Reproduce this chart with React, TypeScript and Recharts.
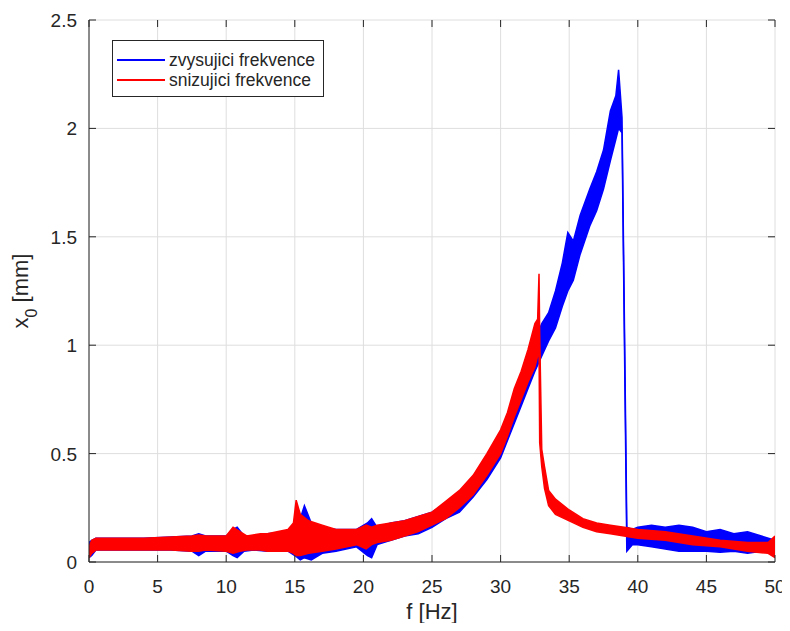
import { ComposedChart, Area, XAxis, YAxis, CartesianGrid, Legend } from 'recharts';

const FONT = '"Liberation Sans", Arial, Helvetica, sans-serif';
const AXIS = '#262626';
const GRID = '#dedede';
const BLUE = '#0000ff';
const RED = '#ff0000';

const SERIES_UP = 'zvysujici frekvence';
const SERIES_DOWN = 'snizujici frekvence';

const X_TICKS = [0, 5, 10, 15, 20, 25, 30, 35, 40, 45, 50];
const Y_TICKS = [0, 0.5, 1, 1.5, 2, 2.5];

// zvysujici frekvence: envelope of the noisy amplitude (min / max) per frequency
const upF = [0, 0.2, 0.5, 2, 4, 6, 7.5, 8, 8.5, 10, 10.5, 10.8, 11.3, 12, 13, 14.5, 15, 15.4, 15.7, 16.2, 17, 18, 19.5, 20.3, 20.6, 21, 22, 23, 24, 25, 26, 27, 28, 29, 30, 30.5, 31, 31.5, 32, 32.5, 33, 33.5, 34, 34.5, 34.9, 35.3, 35.8, 36.5, 37, 37.5, 38, 38.4, 38.6, 38.85, 39.2, 39.6, 40, 41, 42, 43, 44, 45, 46, 47, 48, 49, 50];
const upLo = [0.02, 0.03, 0.055, 0.055, 0.055, 0.055, 0.05, 0.03, 0.05, 0.05, 0.03, 0.02, 0.05, 0.055, 0.05, 0.05, 0.03, 0.01, 0.02, 0.01, 0.04, 0.05, 0.07, 0.03, 0.02, 0.08, 0.1, 0.12, 0.13, 0.16, 0.2, 0.23, 0.3, 0.38, 0.48, 0.56, 0.64, 0.72, 0.8, 0.88, 0.95, 1.02, 1.08, 1.18, 1.25, 1.3, 1.42, 1.55, 1.62, 1.72, 1.85, 1.95, 2.0, 1.98, 0.05, 0.08, 0.08, 0.07, 0.06, 0.05, 0.05, 0.05, 0.045, 0.05, 0.04, 0.05, 0.05];
const upHi = [0.09, 0.1, 0.11, 0.11, 0.11, 0.115, 0.12, 0.13, 0.12, 0.12, 0.15, 0.16, 0.12, 0.12, 0.13, 0.14, 0.16, 0.2, 0.26, 0.18, 0.16, 0.15, 0.15, 0.18, 0.2, 0.16, 0.18, 0.19, 0.21, 0.23, 0.27, 0.32, 0.39, 0.48, 0.6, 0.67, 0.76, 0.86, 0.95, 1.02, 1.1, 1.15, 1.25, 1.38, 1.52, 1.48, 1.6, 1.72, 1.8, 1.9, 2.08, 2.15, 2.27, 2.05, 0.16, 0.15, 0.16, 0.17, 0.16, 0.17, 0.16, 0.14, 0.15, 0.13, 0.14, 0.12, 0.1];

// snizujici frekvence
const downF = [0, 0.2, 0.5, 2, 4, 6, 7.5, 8, 8.5, 10, 10.5, 11, 11.5, 12.5, 13, 14.5, 14.9, 15.1, 15.4, 16, 17, 18, 19.5, 20.2, 20.6, 21, 22, 23, 24, 25, 26, 27, 28, 29, 30, 30.5, 31, 31.5, 32, 32.5, 32.7, 32.8, 32.85, 33, 33.2, 33.5, 34, 35, 36, 37, 38, 39, 40, 42, 44, 46, 48, 49.5, 50];
const downLo = [0.02, 0.04, 0.055, 0.055, 0.055, 0.055, 0.05, 0.05, 0.055, 0.05, 0.04, 0.05, 0.055, 0.055, 0.05, 0.05, 0.04, 0.03, 0.03, 0.04, 0.05, 0.06, 0.08, 0.06, 0.08, 0.09, 0.1, 0.12, 0.14, 0.17, 0.2, 0.25, 0.31, 0.4, 0.5, 0.58, 0.67, 0.75, 0.83, 0.9, 0.95, 1.0, 0.55, 0.44, 0.34, 0.26, 0.22, 0.19, 0.16, 0.14, 0.13, 0.12, 0.11, 0.1, 0.08, 0.07, 0.05, 0.04, 0.02];
const downHi = [0.07, 0.1, 0.11, 0.11, 0.11, 0.115, 0.12, 0.125, 0.12, 0.12, 0.16, 0.14, 0.12, 0.13, 0.13, 0.15, 0.18, 0.285, 0.22, 0.19, 0.17, 0.15, 0.15, 0.17, 0.16, 0.17, 0.18, 0.19, 0.21, 0.23, 0.28, 0.33, 0.4, 0.5, 0.61, 0.69, 0.8, 0.88, 0.98, 1.1, 1.12, 1.33, 1.05, 0.52, 0.44, 0.33, 0.29, 0.24, 0.2, 0.18, 0.17, 0.16, 0.15, 0.14, 0.12, 0.1, 0.09, 0.09, 0.12];

const toRows = (f: number[], lo: number[], hi: number[]) => f.map((v, i) => ({ f: v, band: [lo[i], hi[i]] }));
const upRows = toRows(upF, upLo, upHi);
const downRows = toRows(downF, downLo, downHi);

const W = 782, H = 615;
const MARGIN = { top: 12, right: 15, left: 0, bottom: 0 };
const TICK_LEN = 7;

// MATLAB-style ticks pointing into the box, on both opposite sides
function BottomTick({ x, y, payload }: any) {
  return (
    <g>
      <line x1={x} x2={x} y1={y} y2={y - TICK_LEN} stroke={AXIS} />
      <line x1={x} x2={x} y1={MARGIN.top} y2={MARGIN.top + TICK_LEN} stroke={AXIS} />
      <text x={x} y={y + 31} textAnchor="middle" fill={AXIS} fontSize={19} fontFamily={FONT}>{payload.value}</text>
    </g>
  );
}
function LeftTick({ x, y, payload }: any) {
  const right = W - MARGIN.right;
  return (
    <g>
      <line x1={x} x2={x + TICK_LEN} y1={y} y2={y} stroke={AXIS} />
      <line x1={right} x2={right - TICK_LEN} y1={y} y2={y} stroke={AXIS} />
      <text x={x - 12} y={y + 7} textAnchor="end" fill={AXIS} fontSize={19} fontFamily={FONT}>{payload.value}</text>
    </g>
  );
}

function LegendBox() {
  const items = [{ name: SERIES_UP, color: BLUE }, { name: SERIES_DOWN, color: RED }];
  return (
    <div style={{ border: `1px solid ${AXIS}`, background: '#fff', padding: '9px 8px 6px 4px', fontFamily: FONT, fontSize: 17.5, color: AXIS, lineHeight: '20px' }}>
      {items.map(it => (
        <div key={it.name} style={{ display: 'flex', alignItems: 'center' }}>
          <span style={{ display: 'inline-block', width: 48, height: 1.5, background: it.color, marginRight: 4 }} />
          <span>{it.name}</span>
        </div>
      ))}
    </div>
  );
}

function YLabel({ viewBox }: any) {
  const cy = viewBox.y + viewBox.height / 2;
  const cx = 20;
  return (
    <text x={cx} y={cy} transform={`rotate(-90 ${cx} ${cy})`} textAnchor="middle" fill={AXIS} fontSize={22} fontFamily={FONT}>
      x<tspan baselineShift="sub" fontSize={16}>0</tspan> [mm]
    </text>
  );
}

export default function App() {
  return (
    <ComposedChart width={W} height={H} margin={MARGIN}>
      <CartesianGrid stroke={GRID} strokeWidth={1} horizontalValues={Y_TICKS} verticalValues={X_TICKS} />
      <XAxis dataKey="f" type="number" domain={[0, 50]} ticks={X_TICKS} allowDataOverflow height={61}
        tick={<BottomTick />} tickLine={false} tickSize={0} tickMargin={0} stroke={AXIS} interval={0}
        label={{ value: 'f [Hz]', position: 'insideBottom', offset: 4, fill: AXIS, fontSize: 22, fontFamily: FONT }} />
      <XAxis xAxisId="top" orientation="top" type="number" domain={[0, 50]} allowDataOverflow height={0}
        tick={false} tickLine={false} stroke={AXIS} />
      <YAxis type="number" domain={[0, 2.5]} ticks={Y_TICKS} allowDataOverflow width={81}
        tick={<LeftTick />} tickLine={false} tickSize={0} tickMargin={0} stroke={AXIS} interval={0} label={<YLabel />} />
      <YAxis yAxisId="right" orientation="right" type="number" domain={[0, 2.5]} allowDataOverflow width={0}
        tick={false} tickLine={false} stroke={AXIS} />
      <Area data={upRows} dataKey="band" name={SERIES_UP} type="linear" stroke={BLUE} strokeWidth={1.5} fill={BLUE} fillOpacity={1} isAnimationActive={false} />
      <Area data={downRows} dataKey="band" name={SERIES_DOWN} type="linear" stroke={RED} strokeWidth={1.5} fill={RED} fillOpacity={1} isAnimationActive={false} />
      <Legend layout="vertical" align="center" verticalAlign="middle" content={<LegendBox />}
        wrapperStyle={{ left: 104, top: 32, width: 'auto' }} />
    </ComposedChart>
  );
}
